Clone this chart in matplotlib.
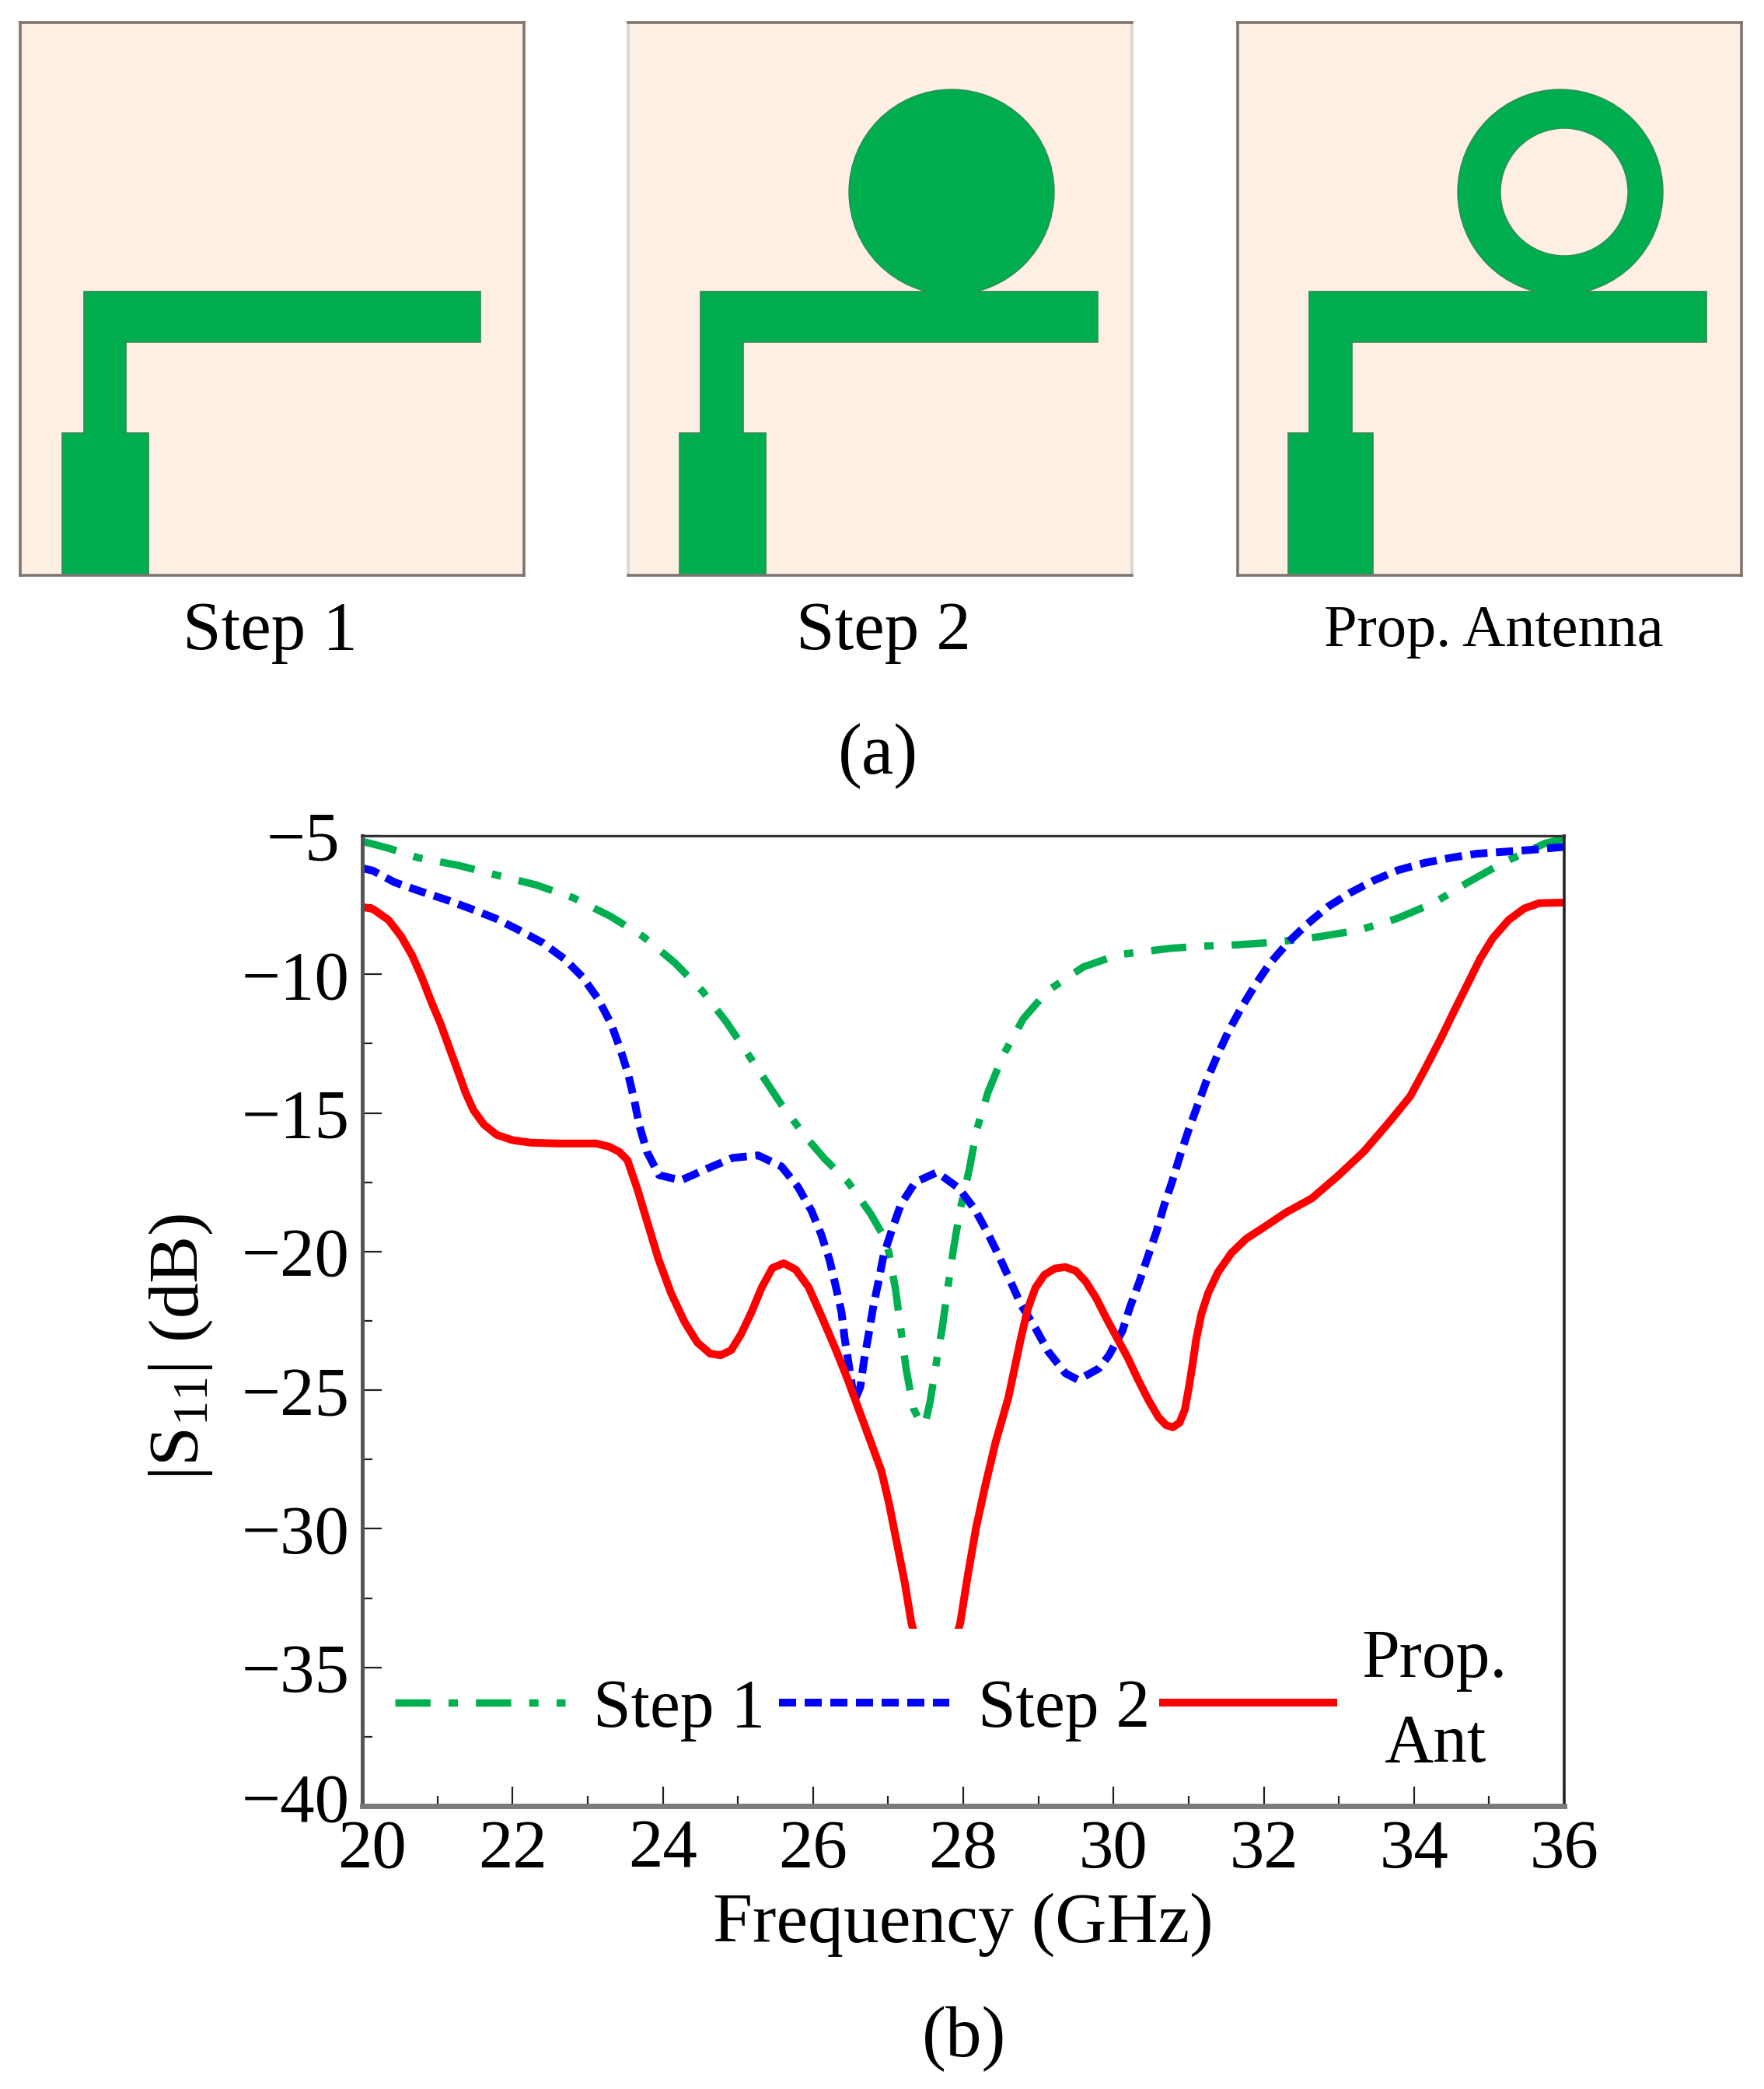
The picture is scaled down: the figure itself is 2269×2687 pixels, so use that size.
import matplotlib
matplotlib.use("Agg")
import matplotlib.pyplot as plt
from matplotlib.patches import Rectangle, Circle, Polygon
from matplotlib.ticker import MultipleLocator
from matplotlib.transforms import ScaledTranslation

plt.rcParams['font.family'] = ['Liberation Serif', 'DejaVu Serif']
plt.rcParams['mathtext.fontset'] = 'custom'
plt.rcParams['mathtext.rm'] = 'Liberation Serif'
plt.rcParams['mathtext.default'] = 'rm'

W, H = 2269, 2687

# Courbes
freq_step1 = [20, 20.35, 20.74, 21.28, 21.79, 22.31, 22.81, 23.3, 23.74, 24.16, 24.53, 24.85, 25.14, 25.58,
              25.9, 26.15, 26.47, 26.77, 26.94, 27.01, 27.1, 27.17, 27.24, 27.34, 27.42, 27.49, 27.56, 27.63,
              27.72, 27.79, 27.87, 27.96, 28.08, 28.18, 28.33, 28.54, 28.8, 29.12, 29.6, 30.07, 30.76, 31.13,
              31.67, 32.2, 32.74, 33.26, 33.77, 34.26, 34.72, 35.18, 35.74, 36]
s11_step1 = [-5.2, -5.45, -5.79, -6.07, -6.42, -6.77, -7.24, -7.9, -8.64, -9.58, -10.61, -11.73, -12.9, -14.7,
             -15.85, -16.64, -17.5, -18.65, -19.45, -20.02, -21.39, -22.82, -24.25, -25.68, -26.1, -26.25, -25.4, -24.2,
             -22.76, -21.39, -19.9, -18.47, -17.04, -15.6, -14.25, -12.87, -11.6, -10.6, -9.73, -9.29, -9.06, -8.99,
             -8.93, -8.83, -8.64, -8.41, -7.99, -7.43, -6.68, -5.98, -5.28, -5.1]

freq_step2 = [20, 20.14, 20.43, 20.78, 21.12, 21.45, 21.78, 22.09, 22.4, 22.69, 22.93, 23.14, 23.31, 23.43,
              23.54, 23.62, 23.69, 23.79, 23.95, 24.24, 24.59, 24.93, 25.27, 25.58, 25.8, 25.98, 26.11, 26.22,
              26.3, 26.38, 26.42, 26.48, 26.55, 26.63, 26.68, 26.74, 26.8, 26.87, 26.94, 27.05, 27.17, 27.36,
              27.65, 27.94, 28.15, 28.32, 28.48, 28.63, 28.77, 28.96, 29.13, 29.36, 29.53, 29.81, 29.94, 30.12,
              30.22, 30.34, 30.45, 30.57, 30.67, 30.78, 30.88, 31.0, 31.12, 31.24, 31.38, 31.53, 31.7, 31.89,
              32.08, 32.33, 32.58, 32.86, 33.15, 33.46, 33.79, 34.14, 34.5, 34.83, 35.19, 35.55, 36]
s11_step2 = [-6.17, -6.26, -6.68, -7.01, -7.31, -7.64, -7.99, -8.41, -8.86, -9.44, -10.09, -10.89, -11.77, -12.66,
             -13.6, -14.53, -15.47, -16.4, -17.24, -17.43, -17.01, -16.62, -16.53, -16.93, -17.67, -18.53, -19.39, -20.3,
             -21.22, -22.19, -23.11, -24.14, -25.4, -24.88, -23.91, -22.99, -22.02, -21.1, -20.13, -19.22, -18.3, -17.5,
             -17.14, -17.71, -18.46, -19.3, -20.19, -21.08, -21.92, -22.76, -23.6, -24.39, -24.63, -24.21, -23.74, -22.85,
             -22.0, -21.12, -20.24, -19.3, -18.37, -17.48, -16.59, -15.61, -14.72, -13.83, -12.94, -12.06, -11.21, -10.37,
             -9.61, -8.83, -8.18, -7.55, -7.06, -6.62, -6.24, -5.98, -5.79, -5.65, -5.58, -5.51, -5.4]

freq_prop = [20, 20.14, 20.35, 20.52, 20.66, 20.79, 20.91, 21.04, 21.16, 21.28, 21.38, 21.48, 21.62, 21.79,
             22.0, 22.24, 22.59, 23.11, 23.28, 23.42, 23.53, 23.66, 23.8, 23.94, 24.11, 24.29, 24.46, 24.63,
             24.77, 24.91, 25.04, 25.18, 25.32, 25.46, 25.61, 25.77, 25.94, 26.11, 26.29, 26.46, 26.63, 26.77,
             26.91, 27.01, 27.11, 27.22, 27.31, 27.63, 27.96, 28.06, 28.17, 28.29, 28.43, 28.6, 28.77, 28.86,
             28.96, 29.08, 29.22, 29.36, 29.5, 29.63, 29.77, 29.91, 30.05, 30.19, 30.32, 30.46, 30.6, 30.7,
             30.79, 30.88, 30.95, 31.0, 31.05, 31.1, 31.17, 31.26, 31.39, 31.57, 31.77, 32.01, 32.29, 32.64,
             32.98, 33.33, 33.67, 33.95, 34.15, 34.36, 34.53, 34.71, 34.88, 35.05, 35.26, 35.47, 35.67, 36]
s11_prop = [-7.57, -7.64, -8.04, -8.64, -9.3, -10.09, -10.93, -11.77, -12.66, -13.55, -14.3, -14.9, -15.42, -15.79,
            -15.98, -16.07, -16.1, -16.1, -16.21, -16.4, -16.7, -17.73, -18.99, -20.25, -21.5, -22.54, -23.28, -23.68,
            -23.74, -23.56, -22.99, -22.19, -21.28, -20.59, -20.42, -20.65, -21.28, -22.31, -23.45, -24.6, -25.85, -26.88,
            -27.91, -29.06, -30.43, -31.92, -33.4, -36.5, -33.4, -31.69, -29.97, -28.48, -26.88, -25.28, -23.09, -22.06,
            -21.31, -20.84, -20.61, -20.56, -20.7, -21.08, -21.68, -22.43, -23.13, -23.83, -24.58, -25.33, -25.98, -26.26,
            -26.34, -26.17, -25.7, -24.96, -24.11, -23.18, -22.25, -21.5, -20.75, -20.05, -19.53, -19.11, -18.6, -18.08,
            -17.29, -16.4, -15.33, -14.4, -13.4, -12.3, -11.35, -10.37, -9.44, -8.69, -8.04, -7.62, -7.43, -7.41]

x_ticks = [20, 22, 24, 26, 28, 30, 32, 34, 36]
y_ticks = [-5, -10, -15, -20, -25, -30, -35, -40]

legend_labels = ['Step 1', 'Step 2', 'Prop.\nAnt']
panel_labels = ['Step 1', 'Step 2', 'Prop. Antenna']

# Couleurs
GREEN = '#00AF50'
BLUE = '#0000FF'
RED = '#FF0000'
SUB = '#FDEFE4'
PATCH = '#00AE4F'
EDGE = '#7F7570'
PATCH_EDGE = '#2F8A55'


def px_axes(left, top, right, bottom):
    return fig.add_axes([left / W, 1 - bottom / H, (right - left) / W, (bottom - top) / H])


def txt(x, y, s, size):
    fig.text(x / W, 1 - y / H, s, ha='center', va='center', fontsize=size, color='black')


def antenna(left, feed, stub, arm_end, disc=None, hole=None, side=EDGE):
    ax = px_axes(left, 29, left + 648, 740)
    ax.set_xlim(0, 648)
    ax.set_ylim(0, 711)
    ax.axis('off')
    ax.add_patch(Rectangle((0, 0), 648, 711, fc=SUB, ec='none'))
    ax.plot([0, 0], [0, 711], color=side, lw=2.6, clip_on=False)
    ax.plot([648, 648], [0, 711], color=side, lw=2.6, clip_on=False)
    ax.plot([0, 648], [0, 0], color=EDGE, lw=2.6, clip_on=False)
    ax.plot([0, 648], [711, 711], color=EDGE, lw=2.6, clip_on=False)
    if disc is not None:
        ax.add_patch(Circle((disc, 493), 132, fc=PATCH, ec=PATCH_EDGE, lw=1))
    outline = [(feed[0], 0), (feed[1], 0), (feed[1], 183), (stub[1], 183), (stub[1], 300), (arm_end, 300),
               (arm_end, 365), (stub[0], 365), (stub[0], 183), (feed[0], 183)]
    ax.add_patch(Polygon(outline, closed=True, fc=PATCH, ec=PATCH_EDGE, lw=1.2))
    if disc is not None:
        ax.add_patch(Rectangle((disc - 33, 355), 66, 20, fc=PATCH, ec='none'))
    if hole is not None:
        ax.add_patch(Circle((hole, 493), 82, fc=SUB, ec=PATCH_EDGE, lw=1))


fig = plt.figure(figsize=(W / 100, H / 100), dpi=100, facecolor='white')

# (a) les trois geometries
antenna(26, (54, 165), (82, 136), 592)
antenna(808, (66, 177), (93, 148), 604, disc=416, side='#DAD5D0')
antenna(1592, (65, 174), (92, 147), 603, disc=415, hole=420)

txt(347, 814, panel_labels[0], 64)
txt(1136, 814, panel_labels[1], 64)
txt(1921, 812, panel_labels[2], 55)
txt(1129, 973, '(a)', 67)
txt(1240, 2623, '(b)', 67)

# (b) |S11|
ax = px_axes(466, 1075, 2012, 2323)
ax.plot(freq_step1, s11_step1, color=GREEN, lw=6.8, ls=(0, (4.8, 2.45, 1.28, 2.45)), label=legend_labels[0])
ax.plot(freq_step2, s11_step2, color=BLUE, lw=7.2, ls=(0, (2.2, 1.1)), label=legend_labels[1])
ax.plot(freq_prop, s11_prop, color=RED, lw=7.2, label=legend_labels[2])
ax.set_xlim(20, 36)
ax.set_ylim(-40, -5)

ax.set_xticks(x_ticks)
ax.set_yticks(y_ticks)
ax.set_yticklabels(['\u2212%d' % abs(v) for v in y_ticks])
ax.xaxis.set_minor_locator(MultipleLocator(1))
ax.yaxis.set_minor_locator(MultipleLocator(2.5))
ax.tick_params(which='major', direction='in', length=18, width=1.6, labelsize=64, color='#202020')
ax.tick_params(which='minor', direction='in', length=9.5, width=1.6, color='#202020')
ax.tick_params(axis='y', which='major', pad=12)
ax.tick_params(axis='x', which='major', pad=12)

ax.spines['bottom'].set_linewidth(5)
ax.spines['bottom'].set_color('#7A7A7A')
ax.spines['left'].set_linewidth(3.6)
ax.spines['left'].set_color('#555555')
ax.spines['top'].set_linewidth(2.4)
ax.spines['top'].set_color('#333333')
ax.spines['right'].set_linewidth(2.6)
ax.spines['right'].set_color('#222222')

# decalages des etiquettes comme sur l'original
def shift(label, dx, dy):
    label.set_transform(label.get_transform() + ScaledTranslation(dx / 100, dy / 100, fig.dpi_scale_trans))


shift(ax.get_xticklabels()[0], 13, 0)
shift(ax.get_yticklabels()[0], -12, 0)
shift(ax.get_yticklabels()[-1], 0, 11)

ax.set_xlabel('Frequency (GHz)', fontsize=66, labelpad=10)
ax.set_ylabel('|S$_{11}$| (dB)', fontsize=66)
ax.yaxis.set_label_coords(-0.123, 0.473)

leg = ax.legend(loc='center', bbox_to_anchor=(0.490, 0.1065), ncol=3, fontsize=63, frameon=True,
                framealpha=1, facecolor='white', edgecolor='none', fancybox=False,
                handlelength=2.5, handletextpad=0.42, columnspacing=0.2, borderpad=0.0, borderaxespad=0)
for t in leg.get_texts():
    t.set_multialignment('center')
    t.set_linespacing(1.45)

fig.savefig('out.png', dpi=100)
